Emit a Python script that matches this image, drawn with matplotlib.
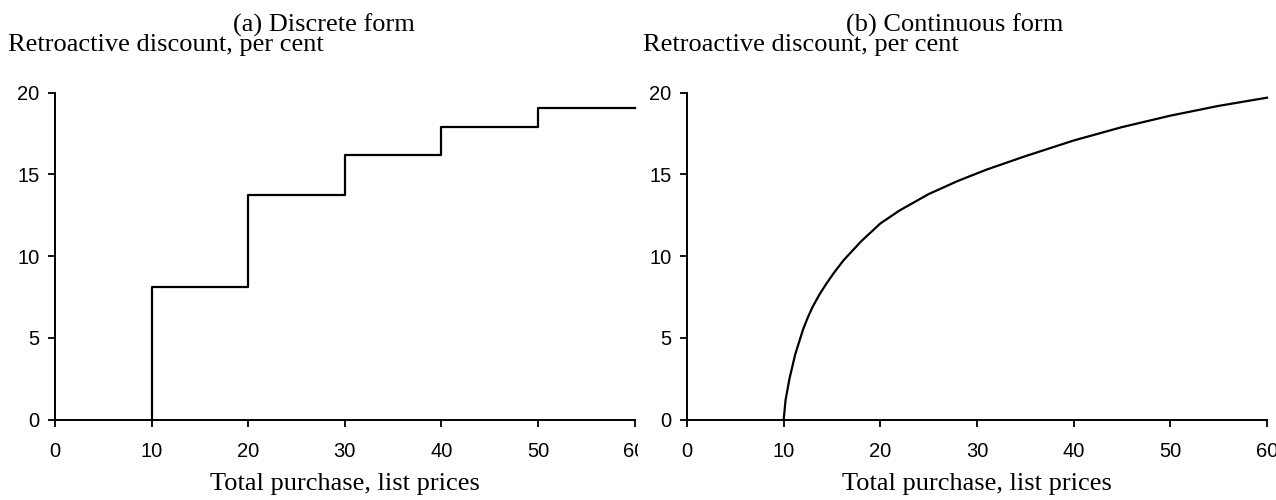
import numpy as np
import matplotlib.pyplot as plt
from matplotlib.transforms import Bbox

# Panel (a): discrete discount schedule, steps start at these purchase levels
step_starts = [10, 20, 30, 40, 50]
step_end = 60
step_discount = [8.12, 13.75, 16.22, 17.88, 19.08]

# Panel (b): continuous discount curve
curve_x = [10, 10.2, 10.6, 11.2, 12.0, 12.5, 13.0, 13.7, 14.4, 15.2, 16.2, 18.0, 20.0,
           22.0, 25.0, 28.0, 31.0, 35.0, 40.0, 45.0, 50.0, 55.0, 60.0]
curve_y = [0, 1.2, 2.5, 4.0, 5.5, 6.25, 6.9, 7.65, 8.3, 8.98, 9.75, 10.9, 12.0,
           12.8, 13.8, 14.6, 15.3, 16.12, 17.08, 17.9, 18.6, 19.2, 19.7]

x_ticks = [0, 10, 20, 30, 40, 50, 60]
y_ticks = [0, 5, 10, 15, 20]

serif = 'Liberation Serif'
sans = 'Liberation Sans'

fig = plt.figure(figsize=(12.76, 5.0), dpi=100)

W, H = 1276.0, 500.0
bottom = 1 - 419.5 / H
height = (419.5 - 92.8) / H
ax1 = fig.add_axes([55 / W, bottom, (634.5 - 55) / W, height])
ax2 = fig.add_axes([687 / W, bottom, (1267 - 687) / W, height])

# step line
sx = [step_starts[0]] + step_starts + [step_end]
sy = [0] + step_discount + [step_discount[-1]]
ax1.step(sx, sy, where='post', color='black', lw=1.6, clip_on=False)

# smooth curve
ax2.plot(curve_x, curve_y, color='black', lw=1.6, clip_on=False)

for ax in (ax1, ax2):
    ax.set_xlim(0, 60)
    ax.set_ylim(0, 20)
    ax.set_xticks(x_ticks)
    ax.set_yticks(y_ticks)
    ax.spines['top'].set_visible(False)
    ax.spines['right'].set_visible(False)
    ax.spines['left'].set_linewidth(1.4)
    ax.spines['bottom'].set_linewidth(1.4)
    ax.tick_params(direction='out', length=5, width=1.3, labelsize=14.5, pad=6)
    ax.tick_params(axis='x', pad=11)
    for lab in ax.get_xticklabels() + ax.get_yticklabels():
        lab.set_fontfamily(sans)
    ax.set_xlabel('Total purchase, list prices', fontsize=19, family=serif, labelpad=9)

# the left half of the original is cropped just past its last tick label
left_clip = Bbox([[0, 0], [638, 500]])
for lab in ax1.get_xticklabels():
    lab.set_clip_box(left_clip)
    lab.set_clip_on(True)

fig.text(0.254, 1 - 32 / H, '(a) Discrete form', ha='center', va='baseline',
         fontsize=19, family=serif)
fig.text(0.748, 1 - 32 / H, '(b) Continuous form', ha='center', va='baseline',
         fontsize=19, family=serif)
fig.text(8 / W, 1 - 51 / H, 'Retroactive discount, per cent', ha='left', va='baseline',
         fontsize=19, family=serif)
fig.text(643 / W, 1 - 51 / H, 'Retroactive discount, per cent', ha='left', va='baseline',
         fontsize=19, family=serif)

fig.savefig('out.png', dpi=100)
